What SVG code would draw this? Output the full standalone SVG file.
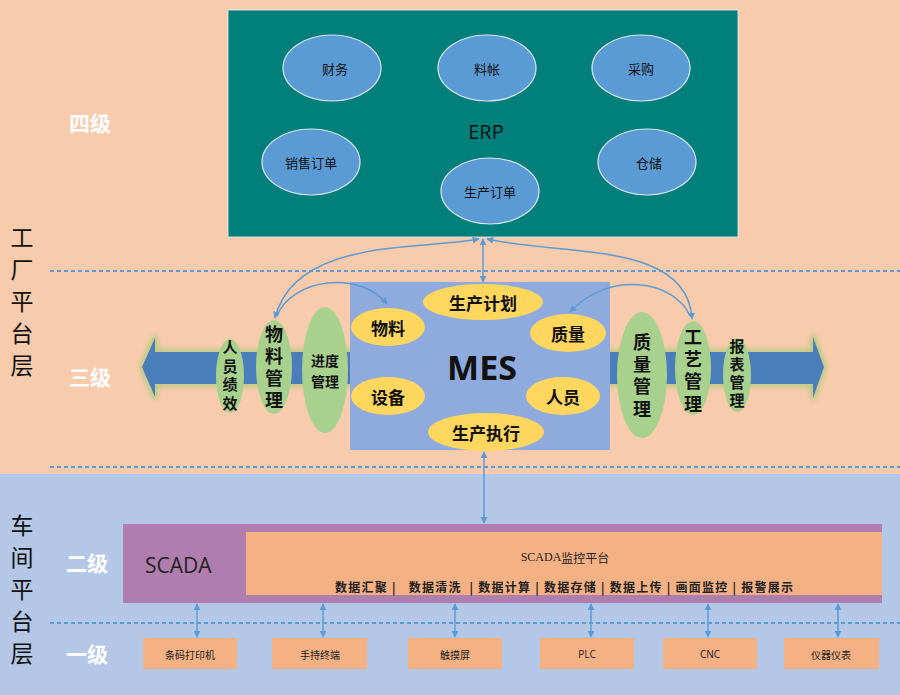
<svg xmlns="http://www.w3.org/2000/svg" width="900" height="695" viewBox="0 0 900 695">
<defs>
<style>
.cjk{font-family:"Noto Sans CJK SC","Noto Sans",sans-serif}
.lat{font-family:"Open Sans","Noto Sans","Noto Sans CJK SC",sans-serif}
.erpE{fill:#5B9BD5;stroke:#DCE6F2;stroke-width:1.2}
.erpT{font-size:13px;fill:#111}
.yel{fill:#FFD75E}
.yelT{font-size:17px;font-weight:bold;fill:#111}
.grn{fill:#A9D18E}
.grnT{fill:#111;font-weight:bold}
.vert{writing-mode:vertical-rl;text-orientation:upright}
.lvl{font-size:21px;font-weight:bold;fill:#FFFFFF}
.side{font-size:23px;fill:#111}
.dash{stroke:#5B9BD5;stroke-width:2;stroke-dasharray:4 3;fill:none}
.conn{stroke:#5B9BD5;stroke-width:1.5;fill:none}
.dev{fill:#F4B183}
.devT{font-size:10px;fill:#222}
</style>
<marker id="ah" viewBox="0 0 10 10" refX="9" refY="5" markerWidth="7" markerHeight="7" orient="auto-start-reverse" markerUnits="userSpaceOnUse">
<path d="M0,0 L10,5 L0,10 z" fill="#5B9BD5"/>
</marker>
<filter id="glow" x="-10%" y="-50%" width="120%" height="200%">
<feGaussianBlur stdDeviation="2.5"/>
</filter>
</defs>

<!-- backgrounds -->
<rect x="0" y="0" width="900" height="474" fill="#F8CBAD"/>
<rect x="0" y="474" width="900" height="221" fill="#B4C7E7"/>

<!-- dashed separators -->
<g id="separators">
<line class="dash" x1="50" y1="271" x2="900" y2="271"/>
<line class="dash" x1="50" y1="467" x2="900" y2="467"/>
<line class="dash" x1="50" y1="623" x2="900" y2="623"/>
</g>

<!-- side labels -->
<g id="labels">
<text class="lvl cjk" x="90" y="122" text-anchor="middle" dominant-baseline="central">四级</text>
<text class="lvl cjk" x="90" y="376" text-anchor="middle" dominant-baseline="central">三级</text>
<text class="lvl cjk" x="87" y="562" text-anchor="middle" dominant-baseline="central">二级</text>
<text class="lvl cjk" x="87" y="653" text-anchor="middle" dominant-baseline="central">一级</text>
<text class="side cjk vert" x="22" y="226" letter-spacing="9">工厂平台层</text>
<text class="side cjk vert" x="22" y="514" letter-spacing="9">车间平台层</text>
</g>

<!-- ERP -->
<g id="erp">
<rect x="228" y="10" width="510" height="227" fill="#007F7B" stroke="#E8EEF2" stroke-width="0.8"/>
<text class="lat" x="486" y="131" text-anchor="middle" dominant-baseline="central" font-size="20" fill="#111">ERP</text>
</g>
<g id="erp-caiwu"><ellipse class="erpE" cx="332" cy="68" rx="49" ry="33"/><text class="erpT cjk" x="335" y="68" text-anchor="middle" dominant-baseline="central">财务</text></g>
<g id="erp-liaozhang"><ellipse class="erpE" cx="487" cy="68" rx="49" ry="33"/><text class="erpT cjk" x="487" y="68" text-anchor="middle" dominant-baseline="central">料帐</text></g>
<g id="erp-caigou"><ellipse class="erpE" cx="641" cy="68" rx="49" ry="33"/><text class="erpT cjk" x="641" y="68" text-anchor="middle" dominant-baseline="central">采购</text></g>
<g id="erp-xiaoshou"><ellipse class="erpE" cx="311" cy="162" rx="49" ry="33"/><text class="erpT cjk" x="311" y="162" text-anchor="middle" dominant-baseline="central">销售订单</text></g>
<g id="erp-shengchan"><ellipse class="erpE" cx="490" cy="191" rx="49" ry="33"/><text class="erpT cjk" x="490" y="191" text-anchor="middle" dominant-baseline="central">生产订单</text></g>
<g id="erp-cangchu"><ellipse class="erpE" cx="647" cy="162" rx="49" ry="33"/><text class="erpT cjk" x="649" y="162" text-anchor="middle" dominant-baseline="central">仓储</text></g>

<!-- big double arrow -->
<g id="flow-arrow">
<path d="M142,367 L155,338 L155,352 L813,352 L813,337 L824,367 L813,398 L813,384 L155,384 L155,397 Z" fill="none" stroke="#B9CB82" stroke-width="6" stroke-linejoin="round" filter="url(#glow)"/>
<path d="M142,367 L155,338 L155,352 L813,352 L813,337 L824,367 L813,398 L813,384 L155,384 L155,397 Z" fill="#4A7EBB"/>
</g>

<!-- MES -->
<g id="mes">
<rect x="350" y="282" width="260" height="168" fill="#8FAADC"/>
<text class="lat" x="482" y="367" text-anchor="middle" dominant-baseline="central" font-size="34" font-weight="bold" fill="#111">MES</text>
</g>
<g id="mes-plan"><ellipse class="yel" cx="483" cy="302" rx="60" ry="18"/><text class="yelT cjk" x="483" y="302" text-anchor="middle" dominant-baseline="central">生产计划</text></g>
<g id="mes-material"><ellipse class="yel" cx="388" cy="327" rx="37" ry="19"/><text class="yelT cjk" x="388" y="327" text-anchor="middle" dominant-baseline="central">物料</text></g>
<g id="mes-equip"><ellipse class="yel" cx="388" cy="396" rx="37" ry="19"/><text class="yelT cjk" x="388" y="396" text-anchor="middle" dominant-baseline="central">设备</text></g>
<g id="mes-exec"><ellipse class="yel" cx="486" cy="432" rx="58" ry="19"/><text class="yelT cjk" x="486" y="432" text-anchor="middle" dominant-baseline="central">生产执行</text></g>
<g id="mes-quality"><ellipse class="yel" cx="568" cy="333" rx="38" ry="19"/><text class="yelT cjk" x="568" y="333" text-anchor="middle" dominant-baseline="central">质量</text></g>
<g id="mes-staff"><ellipse class="yel" cx="563" cy="396" rx="37" ry="19"/><text class="yelT cjk" x="563" y="396" text-anchor="middle" dominant-baseline="central">人员</text></g>

<!-- green modules -->
<g id="m-renyuan"><ellipse class="grn" cx="230" cy="376" rx="14" ry="37"/>
<text class="grnT cjk vert" x="230" y="340" font-size="15" letter-spacing="3.5">人员绩效</text></g>
<g id="m-wuliao"><ellipse class="grn" cx="274" cy="367" rx="18" ry="47"/>
<text class="grnT cjk vert" x="274" y="325" font-size="18" letter-spacing="4">物料管理</text></g>
<g id="m-jindu"><ellipse class="grn" cx="325" cy="370" rx="23" ry="63"/>
<text class="grnT cjk" x="325" y="360" font-size="14" text-anchor="middle" dominant-baseline="central">进度</text>
<text class="grnT cjk" x="325" y="381" font-size="14" text-anchor="middle" dominant-baseline="central">管理</text></g>
<g id="m-zhiliang"><ellipse class="grn" cx="642" cy="375" rx="25" ry="63"/>
<text class="grnT cjk vert" x="642" y="333" font-size="18" letter-spacing="4.3">质量管理</text></g>
<g id="m-gongyi"><ellipse class="grn" cx="693" cy="368" rx="18" ry="47"/>
<text class="grnT cjk vert" x="693" y="328" font-size="18" letter-spacing="4.3">工艺管理</text></g>
<g id="m-baobiao"><ellipse class="grn" cx="737" cy="375" rx="14" ry="37"/>
<text class="grnT cjk vert" x="737" y="339" font-size="15" letter-spacing="3">报表管理</text></g>

<!-- SCADA -->
<g id="scada">
<rect x="123" y="524" width="759" height="79" fill="#AF7DAE"/>
<rect x="246" y="532" width="636" height="63" fill="#F4B183"/>
<text class="lat" x="145" y="565" dominant-baseline="central" font-size="21" fill="#222">SCADA</text>
<text x="565" y="557" text-anchor="middle" dominant-baseline="central" font-size="12" fill="#222" font-family="'Liberation Serif','Noto Sans CJK SC',serif">SCADA<tspan font-family="'Noto Sans CJK SC',sans-serif">监控平台</tspan></text>
<text class="cjk" x="335" y="586" textLength="458" lengthAdjust="spacing" dominant-baseline="central" font-size="12" font-weight="bold" fill="#222" xml:space="preserve">数据汇聚 |   数据清洗  | 数据计算 | 数据存储 | 数据上传 | 画面监控 | 报警展示</text>
</g>

<!-- devices -->
<g id="dev-barcode"><rect class="dev" x="143" y="638" width="94" height="31"/><text class="devT cjk" x="190" y="654" text-anchor="middle" dominant-baseline="central">条码打印机</text></g>
<g id="dev-handheld"><rect class="dev" x="272" y="638" width="95" height="31"/><text class="devT cjk" x="320" y="654" text-anchor="middle" dominant-baseline="central">手持终端</text></g>
<g id="dev-touch"><rect class="dev" x="408" y="638" width="94" height="31"/><text class="devT cjk" x="455" y="654" text-anchor="middle" dominant-baseline="central">触摸屏</text></g>
<g id="dev-plc"><rect class="dev" x="540" y="638" width="94" height="31"/><text class="devT lat" x="587" y="654" text-anchor="middle" dominant-baseline="central" font-size="9">PLC</text></g>
<g id="dev-cnc"><rect class="dev" x="663" y="638" width="94" height="31"/><text class="devT lat" x="710" y="654" text-anchor="middle" dominant-baseline="central" font-size="9">CNC</text></g>
<g id="dev-meter"><rect class="dev" x="784" y="638" width="95" height="31"/><text class="devT cjk" x="831" y="654" text-anchor="middle" dominant-baseline="central">仪器仪表</text></g>

<!-- connectors -->
<g id="connectors">
<line class="conn" x1="483" y1="239" x2="483" y2="282" marker-start="url(#ah)" marker-end="url(#ah)"/>
<path class="conn" d="M479,239 C420,250 295,238 275,318" marker-start="url(#ah)" marker-end="url(#ah)"/>
<path class="conn" d="M277,316 C292,278 360,270 387,304" marker-end="url(#ah)"/>
<path class="conn" d="M487,239 C560,256 688,240 692,319" marker-start="url(#ah)" marker-end="url(#ah)"/>
<path class="conn" d="M690,316 C675,280 608,270 570,312" marker-end="url(#ah)"/>
<line class="conn" x1="484" y1="452" x2="484" y2="523" marker-start="url(#ah)" marker-end="url(#ah)"/>
<line class="conn" x1="197" y1="604" x2="197" y2="637" marker-start="url(#ah)" marker-end="url(#ah)"/>
<line class="conn" x1="323" y1="604" x2="323" y2="637" marker-start="url(#ah)" marker-end="url(#ah)"/>
<line class="conn" x1="455" y1="604" x2="455" y2="637" marker-start="url(#ah)" marker-end="url(#ah)"/>
<line class="conn" x1="591" y1="604" x2="591" y2="637" marker-start="url(#ah)" marker-end="url(#ah)"/>
<line class="conn" x1="708" y1="604" x2="708" y2="637" marker-start="url(#ah)" marker-end="url(#ah)"/>
<line class="conn" x1="838" y1="604" x2="838" y2="637" marker-start="url(#ah)" marker-end="url(#ah)"/>
</g>
</svg>
